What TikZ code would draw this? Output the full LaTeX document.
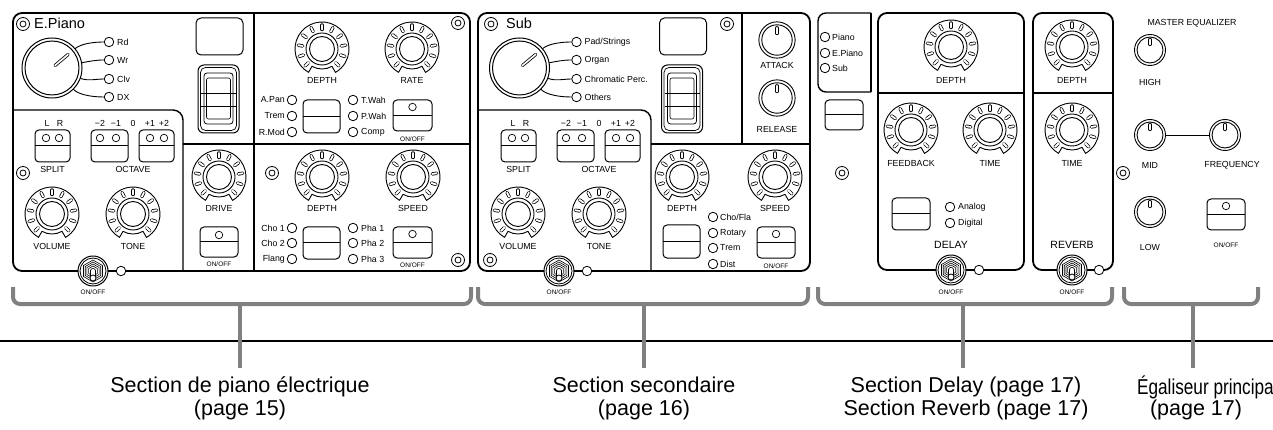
\documentclass[tikz,border=0pt]{standalone}
\usepackage{fontspec}
\usepackage{graphicx}
\setmainfont{Liberation Sans}
\usetikzlibrary{calc}
\definecolor{brkc}{RGB}{128,128,128}
\newcommand\myfs[1]{\fontsize{#1}{#1}\selectfont}
\tikzset{
  outer/.style={line width=1.8pt, rounded corners=9pt},
  inner/.style={line width=1.4pt},
  conn/.style={line width=0.9pt},
  led/.style={circle, draw, line width=0.8pt, minimum size=9.5pt, inner sep=0pt, fill=white},
  sled/.style={circle, draw, line width=0.7pt, minimum size=7.5pt, inner sep=0pt, fill=white},
  btn/.style={draw, line width=1pt, rounded corners=4pt, inner sep=0pt,
    path picture={\draw[line width=1pt] (path picture bounding box.west) -- (path picture bounding box.east);}},
  lab/.style={font=\myfs{8.8}, inner sep=0pt},
  tiny/.style={font=\myfs{6.5}, inner sep=0pt},
  title/.style={font=\myfs{14.5}, inner sep=0pt},
  sect/.style={font=\myfs{10.5}, inner sep=0pt},
  big/.style={font=\fontsize{21.5}{23.5}\selectfont, inner sep=0pt, align=center},
  brk/.style={draw=brkc, line width=4pt, rounded corners=7pt},
  stem/.style={draw=brkc, line width=4pt},
  knobarea/.style={circle, minimum size=31pt, inner sep=0pt},
  pics/tknob/.style={code={
    \draw[line width=0.9pt, fill=white] (120:27) arc[start angle=120, end angle=420, radius=27] -- (60:20) arc[start angle=60, end angle=120, radius=20] -- cycle;
    \foreach \a in {135,162,...,405} {
      \draw[line width=3.4pt, line cap=round] (\a:19.5) -- (\a:24);
      \draw[white, line width=1.8pt, line cap=round] (\a:19.5) -- (\a:24);
    }
    \draw[line width=0.9pt, fill=white] (0,0) circle (16);
    \draw[line width=0.9pt] (0,0) circle (12.5);
  }},
  pics/sknob/.style={code={
    \draw[line width=0.9pt, fill=white] (0,0) circle (15.5);
    \draw[line width=0.9pt] (0,0) circle (13);
    \draw[line width=3.2pt, line cap=round] (0,-10.5) -- (0,-5.5);
    \draw[white, line width=1.6pt, line cap=round] (0,-10.5) -- (0,-5.5);
  }},
  pics/selknob/.style={code={
    \draw[line width=1pt, fill=white] (0,0) circle (30);
    \draw[line width=1pt] (0,0) circle (27);
    \draw[line width=3.2pt, line cap=round] (-40:4) -- (-40:21);
    \draw[white, line width=1.6pt, line cap=round] (-40:4) -- (-40:21);
  }},
  pics/fsw/.style={code={
    \draw[line width=1pt, fill=white] (0,0) circle (15);
    \draw[line width=0.8pt] (0,0) circle (13);
    \foreach \r in {11,9,7,5} {\draw[line width=0.6pt] (30:\r) -- (90:\r) -- (150:\r) -- (210:\r) -- (270:\r) -- (330:\r) -- cycle;}
    \draw[line width=6pt, line cap=round] (0,0) -- (0,6);
    \draw[white, line width=4.4pt, line cap=round] (0,0) -- (0,6);
    \draw[line width=0.8pt, fill=white] (0,7) circle (3);
  }},
  pics/screw/.style={code={
    \draw[line width=0.8pt] (0,0) circle (6.5);
    \draw[line width=0.8pt] (0,0) circle (3);
  }},
}
% selector knob with four LEDs
\newcommand\selgroup[5]{%
  \pic at (52,68) {selknob};
  \node[circle, minimum size=60pt, inner sep=0pt] (#1sel) at (52,68) {};
  \node[led] (#1a) at (109,42) {};
  \node[led] (#1b) at (109,60) {};
  \node[led] (#1c) at (109,79) {};
  \node[led] (#1d) at (109,97) {};
  \node[lab, anchor=west] (#1al) at (117,42) {#2};
  \node[lab, anchor=west] (#1bl) at (117,60) {#3};
  \node[lab, anchor=west] (#1cl) at (117,79) {#4};
  \node[lab, anchor=west] (#1dl) at (117,97) {#5};
  \draw[conn] (#1sel.40) .. controls +(6,-5) and +(-10,0) .. (#1a.west);
  \draw[conn] (#1sel.10) .. controls +(8,-1.5) and +(-8,0) .. (#1b.west);
  \draw[conn] (#1sel.-20) .. controls +(8,3) and +(-8,0) .. (#1c.west);
  \draw[conn] (#1sel.-45) .. controls +(6,6) and +(-10,0) .. (#1d.west);
}
% display and rocker switch
\newcommand\rocker[1]{%
  \node[draw, line width=1pt, rounded corners=5pt, minimum width=47pt, minimum height=37pt, inner sep=0pt] (#1disp) at (219.5,36.5) {};
  \draw[line width=1pt, rounded corners=6pt] (198,65) rectangle (239,133);
  \draw[line width=0.7pt, rounded corners=5pt] (200.5,67.5) rectangle (236.5,130.5);
  \draw[line width=0.8pt, rounded corners=3pt] (204,73) rectangle (233,124);
  \draw[line width=0.6pt, rounded corners=2pt] (206.5,78) rectangle (230.5,119);
  \draw[line width=0.8pt] (201,93) -- (236,93) (201,106) -- (236,106);
}
% split / octave / volume / tone / foot switch
\newcommand\leftsec[1]{%
  \node[btn, minimum width=35pt, minimum height=32pt] (#1splitb) at (52.5,146) {};
  \node[sled] (#1sl) at (46,138) {};
  \node[sled] (#1sr) at (59,138) {};
  \node[lab] (#1L) at (47,123) {L};
  \node[lab] (#1R) at (60,123) {R};
  \node[lab] (#1split) at (52.5,169) {SPLIT};
  \node[btn, minimum width=37pt, minimum height=32pt] (#1oct1) at (109.5,146) {};
  \node[btn, minimum width=35pt, minimum height=32pt] (#1oct2) at (156.5,146) {};
  \node[sled] (#1o1) at (100,138) {};
  \node[sled] (#1o2) at (116,138) {};
  \node[sled] (#1o3) at (150,138) {};
  \node[sled] (#1o4) at (164,138) {};
  \node[lab] (#1m2) at (100,123) {−2};
  \node[lab] (#1m1) at (116,123) {−1};
  \node[lab] (#1z) at (133,123) {0};
  \node[lab] (#1p1) at (150,123) {+1};
  \node[lab] (#1p2) at (164,123) {+2};
  \node[lab] (#1oct) at (133,169) {OCTAVE};
  \pic at (52,214) {tknob};
  \pic at (133,214) {tknob};
  \node[lab] (#1vol) at (52,246) {VOLUME};
  \node[lab] (#1tone) at (133,246) {TONE};
  \pic at (93,271) {fsw};
  \node[led] (#1fl) at (121,271) {};
  \node[tiny] (#1fo) at (93,292) {ON/OFF};
}
\begin{document}
\begin{tikzpicture}[x=1pt,y=-1pt,line join=round]
\useasboundingbox (0,0) rectangle (1273,430);

% ===== Panel 1 : E.Piano =====
\draw[outer] (13,13) rectangle (470,271);
\draw[inner, rounded corners=10pt] (13,110) -- (183,110) -- (183,271);
\draw[inner] (183,144) -- (470,144);
\draw[inner] (254,13) -- (254,271);
\pic at (23,24) {screw};
\pic at (23,173) {screw};
\pic at (458,23) {screw};
\pic at (272,173) {screw};
\pic at (458,260) {screw};
\node[title, anchor=base west] (eptitle) at (34,29) {E.Piano};
\selgroup{a}{Rd}{Wr}{Clv}{DX}
\rocker{a}
\leftsec{a}
% drive
\pic at (219,177) {tknob};
\node[lab] (adrive) at (219,208) {DRIVE};
\node[btn, minimum width=38pt, minimum height=30pt] (adrvb) at (219,242) {};
\node[sled] (adrvl) at (219,235) {};
\node[tiny] (adrvt) at (219,264) {ON/OFF};
% modulation (upper right)
\pic at (322,49) {tknob};
\node[lab] (adepth) at (322,80) {DEPTH};
\pic at (412,49) {tknob};
\node[lab] (arate) at (412,80) {RATE};
\node[led] (apan) at (292,100) {};
\node[led] (atrem) at (292,116) {};
\node[led] (armod) at (292,132) {};
\node[lab, anchor=east] (apanl) at (285,100) {A.Pan};
\node[lab, anchor=east] (ateml) at (285,116) {Trem};
\node[lab, anchor=east] (armodl) at (285,132) {R.Mod};
\node[btn, minimum width=37pt, minimum height=33pt] (amodb) at (321.5,116.5) {};
\node[led] (atwah) at (353,100) {};
\node[led] (apwah) at (353,116) {};
\node[led] (acomp) at (353,132) {};
\node[lab, anchor=west] (atwahl) at (361,100) {T.Wah};
\node[lab, anchor=west] (apwahl) at (361,116) {P.Wah};
\node[lab, anchor=west] (acompl) at (361,132) {Comp};
\node[btn, minimum width=39pt, minimum height=31pt] (amodon) at (412.5,115.5) {};
\node[sled] (amodonl) at (412.5,107) {};
\node[tiny] (amodont) at (412.5,139) {ON/OFF};
% chorus / phaser (lower right)
\pic at (322,177) {tknob};
\node[lab] (adepth2) at (322,208) {DEPTH};
\pic at (413,177) {tknob};
\node[lab] (aspeed) at (413,208) {SPEED};
\node[led] (acho1) at (292,228) {};
\node[led] (acho2) at (292,243) {};
\node[led] (aflang) at (292,259) {};
\node[lab, anchor=east] (acho1l) at (285,228) {Cho 1};
\node[lab, anchor=east] (acho2l) at (285,243) {Cho 2};
\node[lab, anchor=east] (aflangl) at (285,259) {Flang};
\node[btn, minimum width=37pt, minimum height=32pt] (achob) at (321.5,243) {};
\node[led] (apha1) at (353,228) {};
\node[led] (apha2) at (353,243) {};
\node[led] (apha3) at (353,259) {};
\node[lab, anchor=west] (apha1l) at (361,228) {Pha 1};
\node[lab, anchor=west] (apha2l) at (361,243) {Pha 2};
\node[lab, anchor=west] (apha3l) at (361,259) {Pha 3};
\node[btn, minimum width=39pt, minimum height=31pt] (achoon) at (412.5,242.5) {};
\node[sled] (achoonl) at (412.5,234) {};
\node[tiny] (achoont) at (412.5,265) {ON/OFF};

% ===== Panel 2 : Sub =====
\draw[outer] (478,13) rectangle (810,271);
\draw[inner, rounded corners=10pt] (478,110) -- (651,110) -- (651,271);
\draw[inner] (651,144) -- (810,144);
\draw[inner] (742,13) -- (742,144);
\pic at (491,24) {screw};
\pic at (727,24) {screw};
\pic at (490,260) {screw};
\node[title, anchor=base west] (subtitle) at (506,29) {Sub};
\begin{scope}[xshift=467.5pt]
  \selgroup{b}{Pad/Strings}{Organ}{Chromatic Perc.}{Others}
\end{scope}
\begin{scope}[xshift=463.5pt]
  \rocker{b}
\end{scope}
\begin{scope}[xshift=466pt]
  \leftsec{b}
\end{scope}
\pic[scale=1.17] at (777,40) {sknob};
\node[lab] (battack) at (777,65) {ATTACK};
\pic[scale=1.17] at (777,98) {sknob};
\node[lab] (brelease) at (777,129) {RELEASE};
\pic at (682,177) {tknob};
\node[lab] (bdepth) at (682,208) {DEPTH};
\pic at (775,177) {tknob};
\node[lab] (bspeed) at (775,208) {SPEED};
\node[btn, minimum width=37pt, minimum height=33pt] (beffb) at (681.5,241.5) {};
\node[led] (bcho) at (713,217) {};
\node[led] (brot) at (713,233) {};
\node[led] (btrem) at (713,248) {};
\node[led] (bdist) at (713,264) {};
\node[lab, anchor=west] (bchol) at (720,217) {Cho/Fla};
\node[lab, anchor=west] (brotl) at (720,233) {Rotary};
\node[lab, anchor=west] (bteml) at (720,248) {Trem};
\node[lab, anchor=west] (bdistl) at (720,264) {Dist};
\node[btn, minimum width=38pt, minimum height=31pt] (beffon) at (776,242.5) {};
\node[sled] (beffonl) at (776,234) {};
\node[tiny] (beffont) at (776,266) {ON/OFF};

% ===== Panel 3 : effect target =====
\draw[inner, rounded corners=8pt] (871,13) -- (818,13) -- (818,92) -- (871,92);
\draw[inner] (871,13) -- (871,92);
\node[led] (cpiano) at (825,37) {};
\node[led] (cepiano) at (825,53) {};
\node[led] (csub) at (825,68) {};
\node[lab, anchor=west] (cpianol) at (832,37) {Piano};
\node[lab, anchor=west] (cepianol) at (832,53) {E.Piano};
\node[lab, anchor=west] (csubl) at (832,68) {Sub};
\node[btn, minimum width=38pt, minimum height=30pt] (cbtn) at (844,115) {};
\pic at (842,173) {screw};

% ===== Delay =====
\draw[outer] (878,13) rectangle (1024,270);
\draw[inner] (878,93) -- (1024,93);
\pic at (951,47) {tknob};
\node[lab] (ddepth) at (951,80) {DEPTH};
\pic at (911,130) {tknob};
\node[lab] (dfeed) at (911,163) {FEEDBACK};
\pic at (990,130) {tknob};
\node[lab] (dtime) at (990,163) {TIME};
\node[btn, minimum width=38pt, minimum height=32pt] (dbtn) at (911,214) {};
\node[led] (dana) at (950,207) {};
\node[led] (ddig) at (950,223) {};
\node[lab, anchor=west] (danal) at (958,207) {Analog};
\node[lab, anchor=west] (ddigl) at (958,223) {Digital};
\node[sect] (dname) at (951,245) {DELAY};
\pic at (951,270) {fsw};
\node[led] (dfl) at (979,270) {};
\node[tiny] (dfo) at (951,292) {ON/OFF};

% ===== Reverb =====
\draw[outer] (1033,13) rectangle (1113,270);
\draw[inner] (1033,93) -- (1113,93);
\pic at (1072,47) {tknob};
\node[lab] (rdepth) at (1072,80) {DEPTH};
\pic at (1072,130) {tknob};
\node[lab] (rtime) at (1072,163) {TIME};
\node[sect] (rname) at (1072,245) {REVERB};
\pic at (1072,270) {fsw};
\node[led] (rfl) at (1099,270) {};
\node[tiny] (rfo) at (1072,292) {ON/OFF};

% ===== Master equalizer =====
\node[lab] (eqtitle) at (1192,23) {MASTER EQUALIZER};
\pic at (1123,173) {screw};
\pic at (1150,50) {sknob};
\node[lab] (ehigh) at (1150,82) {HIGH};
\node[knobarea] (emid) at (1150,135) {};
\pic at (1150,135) {sknob};
\node[lab] (emidl) at (1150,165) {MID};
\node[knobarea] (efreq) at (1225,135) {};
\pic at (1225,135) {sknob};
\node[lab] (efreql) at (1232,165) {FREQUENCY};
\draw[conn] (emid) -- (efreq);
\pic at (1150,212) {sknob};
\node[lab] (elow) at (1150,247) {LOW};
\node[btn, minimum width=38pt, minimum height=31pt] (eon) at (1226,214.5) {};
\node[sled] (eonl) at (1226,206) {};
\node[tiny] (eont) at (1226,245) {ON/OFF};

% ===== rule, brackets and captions =====
\coordinate (r0) at (0,341);
\coordinate (r1) at (1273,341);
\draw[line width=1.4pt] (r0) -- (r1);
\draw[brk] (13,287) -- (13,304) -- (471,304) -- (471,287);
\draw[brk] (478,287) -- (478,304) -- (808,304) -- (808,287);
\draw[brk] (818,287) -- (818,304) -- (1112,304) -- (1112,287);
\draw[brk] (1124,287) -- (1124,304) -- (1258,304) -- (1258,287);
\coordinate (s1a) at (240,304);  \coordinate (s1b) at (240,368);
\coordinate (s2a) at (644,304);  \coordinate (s2b) at (644,368);
\coordinate (s3a) at (963,304);  \coordinate (s3b) at (963,368);
\coordinate (s4a) at (1193,304); \coordinate (s4b) at (1193,368);
\draw[stem] (s1a) -- (s1b);
\draw[stem] (s2a) -- (s2b);
\draw[stem] (s3a) -- (s3b);
\draw[stem] (s4a) -- (s4b);
\node[big] (t1) at (240,398.5) {Section de piano électrique\\(page 15)};
\node[big] (t2) at (644,398.5) {Section secondaire\\(page 16)};
\node[big] (t3) at (966,398.5) {Section Delay (page 17)\\Section Reverb (page 17)};
\node[big, anchor=east] (t4) at (1274,387) {\scalebox{0.8}[1]{Égaliseur principa}};
\node[big] (t5) at (1196,410) {(page 17)};
\end{tikzpicture}
\end{document}
